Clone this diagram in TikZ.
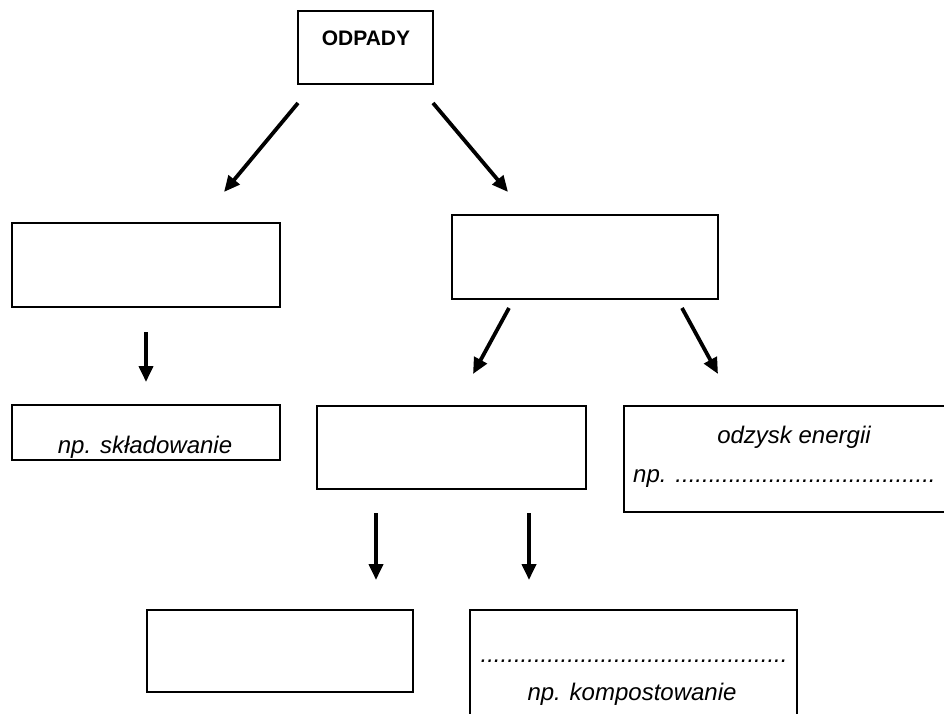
\documentclass[tikz,border=0pt]{standalone}
\usepackage{fontspec}
\setmainfont{Liberation Sans}
\usetikzlibrary{arrows.meta}
\tikzset{
  box/.style={draw=black, line width=1.3pt, inner sep=0pt},
  arr/.style={line width=3.8pt, -{Triangle[length=16pt,width=14pt]}},
  lbl/.style={font=\fontsize{24}{28}\selectfont\itshape, inner sep=0pt, anchor=base},
  titlelbl/.style={font=\fontsize{21}{24}\selectfont\bfseries, inner sep=0pt, anchor=base},
}
\begin{document}
\begin{tikzpicture}[x=1pt,y=-1pt]
\useasboundingbox (0,0) rectangle (944,714);
\clip (0,0) rectangle (944,714);
\fill[white] (0,0) rectangle (944,714);
% boxes
\node[box, minimum width=135pt, minimum height=73pt] (odpady) at (365.5,47.5) {};
\node[titlelbl] (odpadyT) at (366,46) {ODPADY};
\node[box, minimum width=268pt, minimum height=84pt] (b1) at (146,265) {};
\node[box, minimum width=266pt, minimum height=84pt] (b2) at (585,257) {};
\node[box, minimum width=268pt, minimum height=55pt] (b3) at (146,432.5) {};
\node[lbl] (b3T) at (145,453) {np. składowanie};
\node[box, minimum width=269pt, minimum height=83pt] (b4) at (451.5,447.5) {};
\node[box, minimum width=336pt, minimum height=106pt] (b5) at (792,459) {};
\node[lbl] (b5T) at (794,443) {odzysk energii};
\node[lbl, anchor=base west] (b5D) at (633,482) {np. .......................................};
\node[box, minimum width=266pt, minimum height=82pt] (b6) at (280,651) {};
\node[box, minimum width=327pt, minimum height=120pt] (b7) at (633.5,670) {};
\node[lbl] (b7D) at (634,662) {..............................................};
\node[lbl] (b7T) at (632,700) {np. kompostowanie};
% arrow end points
\coordinate (a1s) at (298,103); \coordinate (a1e) at (224,192);
\coordinate (a2s) at (433,103); \coordinate (a2e) at (508,192);
\coordinate (a3s) at (146,332); \coordinate (a3e) at (146,382);
\coordinate (a4s) at (509,308); \coordinate (a4e) at (473,374);
\coordinate (a5s) at (682,308); \coordinate (a5e) at (718,374);
\coordinate (a6s) at (376,513); \coordinate (a6e) at (376,580);
\coordinate (a7s) at (529,513); \coordinate (a7e) at (529,580);
\draw[arr] (a1s) -- (a1e);
\draw[arr] (a2s) -- (a2e);
\draw[arr] (a3s) -- (a3e);
\draw[arr] (a4s) -- (a4e);
\draw[arr] (a5s) -- (a5e);
\draw[arr] (a6s) -- (a6e);
\draw[arr] (a7s) -- (a7e);
\end{tikzpicture}
\end{document}
